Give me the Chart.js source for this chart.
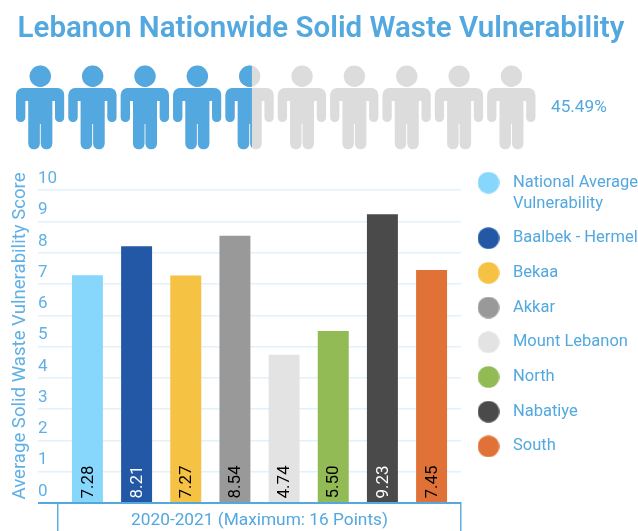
<!DOCTYPE html>
<html>
<head>
<meta charset="utf-8">
<style>html,body{margin:0;padding:0;background:#fff}canvas{display:block}</style>
<script src="https://cdn.jsdelivr.net/npm/chart.js@4/dist/chart.umd.min.js"></script>
</head>
<body>
<canvas id="c" width="638" height="531"></canvas>
<script>
const titleText = 'Lebanon Nationwide Solid Waste Vulnerability';
const yAxisTitle = 'Average Solid Waste Vulnerability Score';
const categories = ['2020-2021 (Maximum: 16 Points)'];
const regions = ['National Average Vulnerability','Baalbek - Hermel','Bekaa','Akkar','Mount Lebanon','North','Nabatiye','South'];
const scores = [7.28, 8.21, 7.27, 8.54, 4.74, 5.50, 9.23, 7.45];
const barColors = ['#87D7FD','#2258A5','#F5C244','#999999','#E3E3E3','#93BB55','#4A4A4A','#E07237'];
const valueColors = ['#000','#fff','#000','#000','#000','#000','#fff','#000'];
const vulnerabilityPercent = 45.49;
const peopleCount = 10;

const BLUE = '#52A8DF', GREY = '#DCDCDC', FONT = 'Roboto';

function personPath(x) {
  const p = new Path2D();
  p.arc(x + 24.3, 76.3, 10.7, 0, Math.PI * 2);
  p.closePath();
  p.roundRect(x, 88, 48.3, 13, [7, 7, 0, 0]);
  p.roundRect(x, 92, 9.3, 30, 4.6);
  p.roundRect(x + 39, 92, 9.3, 30, 4.6);
  p.rect(x + 12.3, 92, 24, 32);
  p.roundRect(x + 12.3, 112, 11.5, 37.3, 5.7);
  p.roundRect(x + 24.8, 112, 11.5, 37.3, 5.7);
  return p;
}

const pictogram = {
  id: 'pictogram',
  afterLayout(chart) {
    chart.titleBlock.left = 2;
    chart.titleBlock.right = 640;
    chart.legend.left = 472.3 - chart.options.plugins.legend.labels.padding;
    chart.legend.top = 160.5;
    chart.scales.y.top = 172;
    chart.scales.y.bottom = 500;
  },
  afterDraw(chart) {
    const ctx = chart.ctx, step = 52.35, x0 = 16, w = 48.3;
    const filled = vulnerabilityPercent / 100 * peopleCount;
    for (let i = 0; i < peopleCount; i++) {
      const x = x0 + i * step, path = personPath(x);
      const share = Math.max(0, Math.min(1, filled - i));
      ctx.save(); ctx.fillStyle = GREY; ctx.fill(path); ctx.restore();
      if (share > 0) {
        ctx.save();
        ctx.beginPath(); ctx.rect(x - 1, 60, 1 + w * share, 100); ctx.clip();
        ctx.fillStyle = BLUE; ctx.fill(path);
        ctx.restore();
      }
    }
    ctx.save();
    ctx.fillStyle = BLUE;
    ctx.font = '17.2px ' + FONT;
    ctx.textAlign = 'left'; ctx.textBaseline = 'middle';
    ctx.fillText(vulnerabilityPercent.toFixed(2) + '%', 551, 107.5);
    ctx.restore();
  }
};

const barValues = {
  id: 'barValues',
  afterDatasetsDraw(chart) {
    const ctx = chart.ctx;
    chart.data.datasets.forEach((ds, i) => {
      const bar = chart.getDatasetMeta(i).data[0];
      ctx.save();
      ctx.translate(bar.x, chart.scales.y.getPixelForValue(0) - 4.5);
      ctx.rotate(-Math.PI / 2);
      ctx.fillStyle = valueColors[i];
      ctx.font = '17px ' + FONT;
      ctx.textAlign = 'left'; ctx.textBaseline = 'middle';
      ctx.fillText(ds.data[0].toFixed(2), 0, 1);
      ctx.restore();
    });
  }
};

function dot(color) {
  const s = document.createElement('canvas');
  s.width = 22; s.height = 22;
  const g = s.getContext('2d');
  g.fillStyle = color;
  g.beginPath(); g.arc(11, 11, 10.8, 0, Math.PI * 2); g.fill();
  return s;
}

new Chart(document.getElementById('c'), {
  type: 'bar',
  data: {
    labels: categories,
    datasets: regions.map((r, i) => ({
      label: r,
      data: [scores[i]],
      backgroundColor: barColors[i],
      barPercentage: 0.63,
      categoryPercentage: 0.976,
      clip: false
    }))
  },
  plugins: [pictogram, barValues],
  options: {
    responsive: false,
    animation: false,
    layout: { padding: { left: 38, right: 0, top: 12, bottom: 0 } },
    plugins: {
      title: {
        display: true, text: titleText, color: BLUE,
        font: { family: FONT, size: 29.5, weight: '600', lineHeight: 1.2 },
        padding: { top: 0, bottom: 142.8 }
      },
      tooltip: { enabled: false },
      legend: {
        display: true, position: 'right', align: 'start', maxWidth: 177,
        labels: {
          color: BLUE, padding: 13.9, usePointStyle: true, pointStyleWidth: 32.4, boxHeight: 16,
          font: { family: FONT, size: 16.5, lineHeight: '20.8px' },
          generateLabels() {
            return regions.map((r, i) => ({
              text: i === 0 ? ['National Average', 'Vulnerability'] : [r],
              fontColor: BLUE, fillStyle: barColors[i], strokeStyle: barColors[i],
              lineWidth: 0, pointStyle: dot(barColors[i]), datasetIndex: i
            }));
          }
        }
      }
    },
    scales: {
      x: {
        afterFit(s) { s.height = 28; },
        grid: { offset: true, drawOnChartArea: false, color: '#5FAFE3', lineWidth: 1.5, tickLength: 28 },
        border: { display: true, color: BLUE, width: 2 },
        ticks: { color: BLUE, padding: -21, maxRotation: 0, font: { family: FONT, size: 17.3 } }
      },
      y: {
        min: 0, max: 10,
        afterFit(s) { s.width = 20; },
        title: {
          display: true, text: yAxisTitle, color: '#60B0E4',
          font: { family: FONT, size: 18.6 }, padding: { top: -29, bottom: 0 }
        },
        grid: {
          color: c => c.tick.value === 0 ? BLUE : '#E3F1FB',
          lineWidth: c => c.tick.value === 0 ? 2 : 1.5,
          tickLength: 20
        },
        border: { display: false },
        ticks: {
          stepSize: 1, color: '#60B0E4', crossAlign: 'far', labelOffset: -11.5, padding: 0,
          font: { family: FONT, size: 17 }
        }
      }
    }
  }
});
</script>
</body>
</html>
